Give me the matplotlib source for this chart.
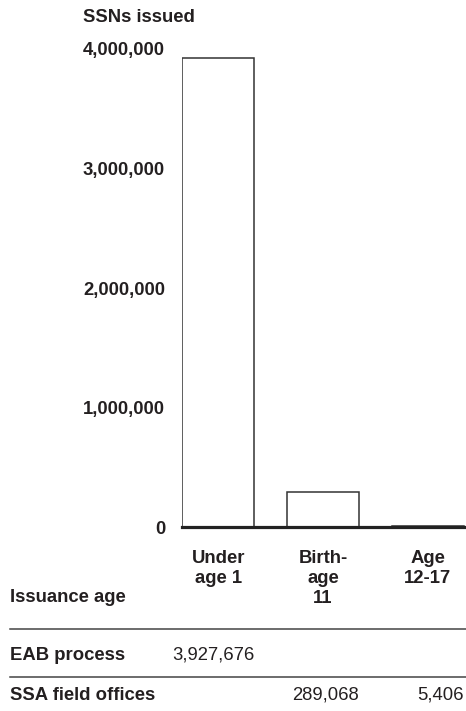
import matplotlib
matplotlib.use("Agg")
import matplotlib.pyplot as plt
import matplotlib.transforms as mtransforms

categories = ["Under\nage 1", "Birth-\nage\n11", "Age\n12-17"]
eab_process = [3927676, 0, 0]
ssa_field_offices = [0, 289068, 5406]
row_labels = ["EAB process", "SSA field offices"]
yticks = [0, 1000000, 2000000, 3000000, 4000000]

totals = [a + b for a, b in zip(eab_process, ssa_field_offices)]

plt.rcParams['font.family'] = ['Liberation Sans', 'DejaVu Sans']
TXT = '#231f20'
FS = 13.3

fig = plt.figure(figsize=(4.66, 7.11), dpi=100)
ax = fig.add_axes([182/466, 1 - 527/711, 1 - 182/466, (527 - 49)/711])

x = list(range(len(categories)))
w = 0.69
ax.bar(x, totals, width=w, facecolor='white', edgecolor='#333333', linewidth=1.1, zorder=2)
ax.set_xlim(-w/2, 2 + w/2 + 0.02)
ax.set_ylim(0, 4000000)

for s in ['top', 'right', 'left']:
    ax.spines[s].set_visible(False)
ax.spines['bottom'].set_linewidth(2.3)
ax.spines['bottom'].set_color('#222222')
ax.spines['bottom'].set_zorder(3)

ax.set_yticks(yticks)
ax.set_yticklabels([f"{v:,}" for v in yticks], fontsize=FS, fontweight='bold', color=TXT)
ax.tick_params(axis='y', length=0, pad=12.2)
ax.set_xticks(x)
ax.set_xticklabels(categories, fontsize=FS, fontweight='bold', color=TXT, linespacing=1.22)
ax.tick_params(axis='x', length=0, pad=16.5)

fig.text(83/466, 1 - 17/711, "SSNs issued", fontsize=FS, fontweight='bold', color=TXT,
         ha='left', va='center')
fig.text(10/466, 1 - 598/711, "Issuance age", fontsize=FS, fontweight='bold', color=TXT,
         ha='left', va='center')

# table lines
for yl in [629, 677]:
    fig.add_artist(plt.Line2D([10/466, 1.0], [1 - yl/711, 1 - yl/711], color='#444444',
                              linewidth=1.1, transform=fig.transFigure))

trans = mtransforms.blended_transform_factory(ax.transData, fig.transFigure)
row_y = [1 - 655/711, 1 - 695/711]
for lbl, ry, vals in zip(row_labels, row_y, [eab_process, ssa_field_offices]):
    fig.text(10/466, ry, lbl, fontsize=FS, fontweight='bold', color=TXT, ha='left', va='center')
    for xi, v in zip(x, vals):
        if v:
            fig.text(xi + w/2, ry, f"{v:,}", fontsize=FS, color=TXT, ha='right', va='center',
                     transform=trans)

fig.savefig("out.png", dpi=100)
